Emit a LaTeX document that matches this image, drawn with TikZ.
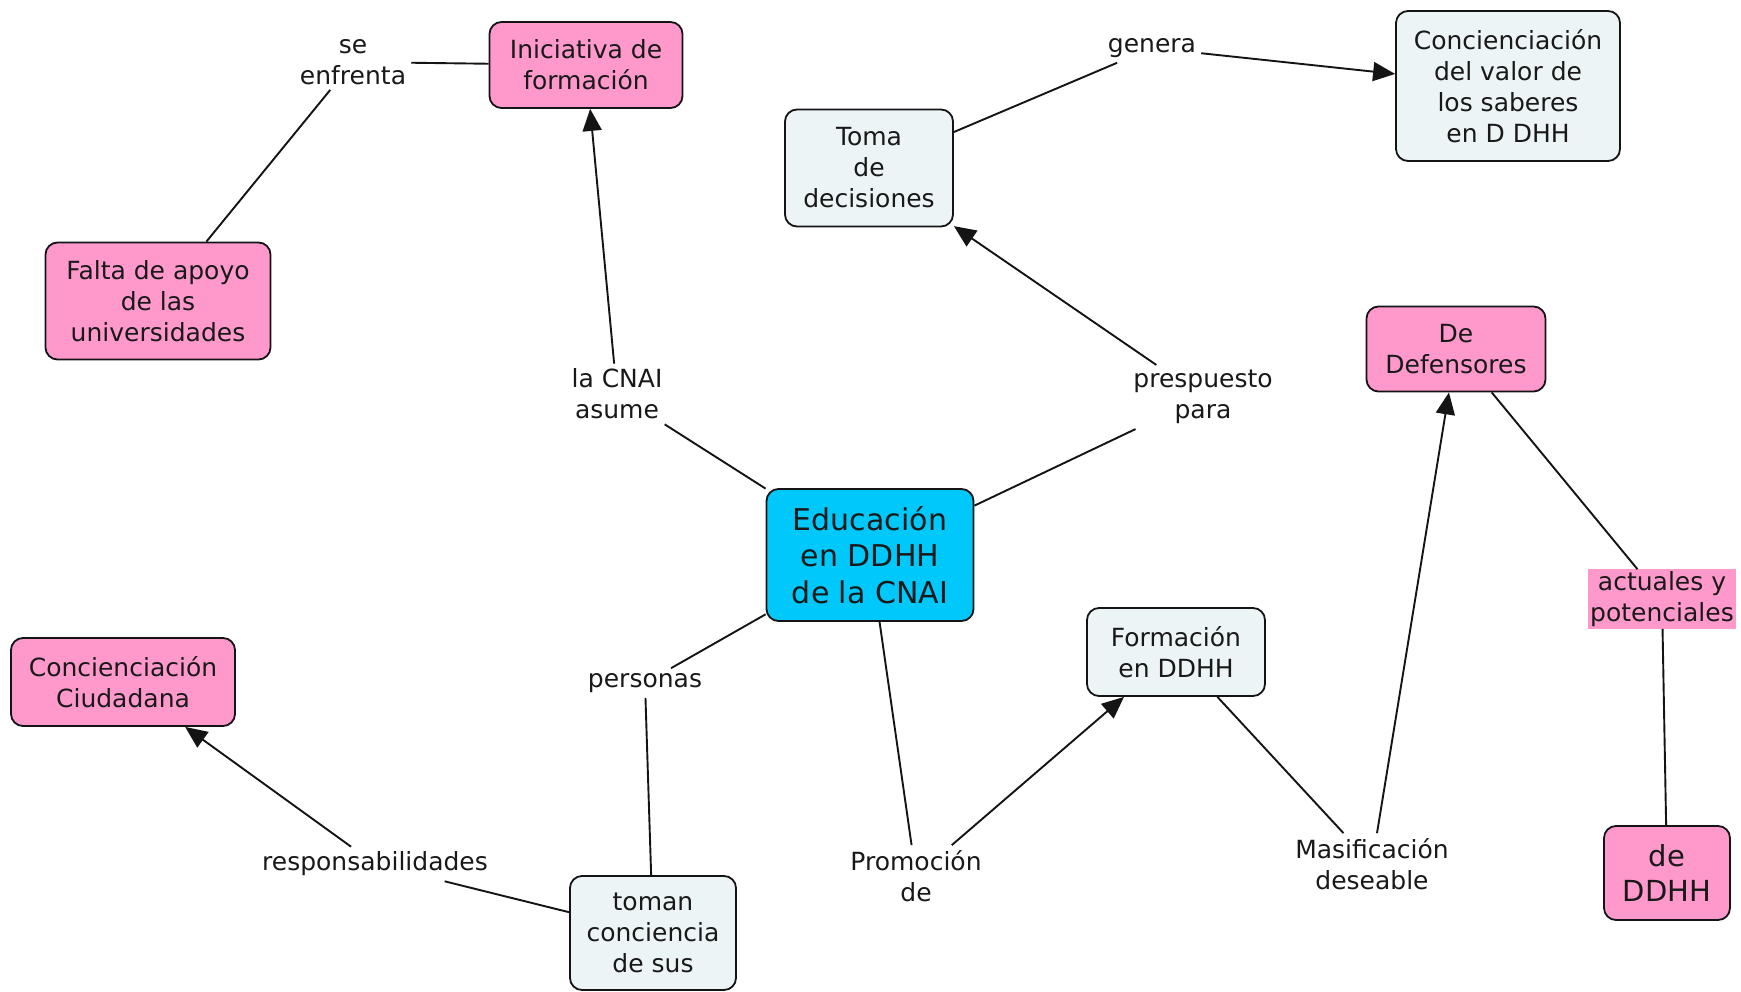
\documentclass[tikz,border=0pt]{standalone}
\usepackage{fontspec}
\setmainfont{DejaVu Sans}
\usetikzlibrary{arrows.meta}
\definecolor{cpink}{RGB}{255,153,204}
\definecolor{cgrey}{RGB}{237,244,246}
\definecolor{ccyan}{RGB}{0,200,250}
\definecolor{cline}{RGB}{20,20,20}
\tikzset{
  concept/.style={draw=cline, line width=1.8pt, rounded corners=12pt, align=center, inner sep=2pt,
    font=\fontsize{25}{31}\selectfont, text=black!90},
  pinkc/.style={concept, fill=cpink},
  greyc/.style={concept, fill=cgrey},
  linkp/.style={align=center, inner sep=5pt, font=\fontsize{25}{31}\selectfont, text=black!90},
  conn/.style={draw=cline, line width=1.9pt},
  arr/.style={conn, -{Triangle[length=22pt,width=19pt]}}
}
\begin{document}
\begin{tikzpicture}[x=1pt,y=-1pt]
\useasboundingbox[fill=white] (0,0) rectangle (1741,992);
% concepts
\node[pinkc, minimum width=193pt, minimum height=86pt] (ini) at (586,65) {Iniciativa de\\formación};
\node[pinkc, minimum width=225pt, minimum height=117pt] (falta) at (158,301) {Falta de apoyo\\de las\\universidades};
\node[greyc, minimum width=168pt, minimum height=117pt] (toma) at (869,168) {Toma\\de\\decisiones};
\node[greyc, minimum width=224pt, minimum height=150pt] (concv) at (1508,86) {Concienciación\\del valor de\\los saberes\\en D DHH};
\node[pinkc, minimum width=179pt, minimum height=85pt] (def) at (1456,349) {De\\Defensores};
\node[concept, fill=ccyan, minimum width=207pt, minimum height=132pt, font=\fontsize{30}{36.6}\selectfont] (edu) at (870,555) {Educación\\en DDHH\\de la CNAI};
\node[greyc, minimum width=178pt, minimum height=88pt] (form) at (1176,652) {Formación\\en DDHH};
\node[pinkc, minimum width=224pt, minimum height=88pt] (ciud) at (123,682) {Concienciación\\Ciudadana};
\node[greyc, minimum width=166pt, minimum height=114pt] (toman) at (653,933) {toman\\conciencia\\de sus};
\node[pinkc, minimum width=126pt, minimum height=94pt, font=\fontsize{29}{35.5}\selectfont] (deddhh) at (1667,873) {de\\DDHH};
% linking phrases
\node[linkp] (seenf) at (353,62) {se\\enfrenta};
\node[linkp] (cnai) at (617,394) {la CNAI\\asume};
\node[linkp] (genera) at (1152,48) {genera};
\node[linkp] (presp) at (1203,397) {prespuesto\\para};
\node[linkp, fill=cpink, inner sep=2pt] (actual) at (1662,599) {actuales y\\potenciales};
\node[linkp] (pers) at (645,683) {personas};
\node[linkp] (resp) at (375,864) {responsabilidades};
\node[linkp] (prom) at (916,876) {Promoción\\de};
\node[linkp] (masif) at (1372,864) {Masificación\\deseable};
% connectors
\draw[conn] (falta) -- (seenf);
\draw[conn] (seenf) -- (ini);
\draw[conn] (edu) -- (cnai);
\draw[arr] (cnai) -- (ini);
\draw[conn] (edu) -- (presp);
\draw[arr] (presp) -- (toma);
\draw[conn] (toma) -- (genera);
\draw[arr] (genera) -- (concv);
\draw[conn] (edu) -- (pers);
\draw[conn] (pers) -- (toman);
\draw[conn] (toman) -- (resp);
\draw[arr] (resp) -- (ciud);
\draw[conn] (edu) -- (prom);
\draw[arr] (prom) -- (form);
\draw[conn] (form) -- (masif);
\draw[arr] (masif) -- (def);
\draw[conn] (def) -- (actual);
\draw[conn] (actual) -- (deddhh);
\end{tikzpicture}
\end{document}
